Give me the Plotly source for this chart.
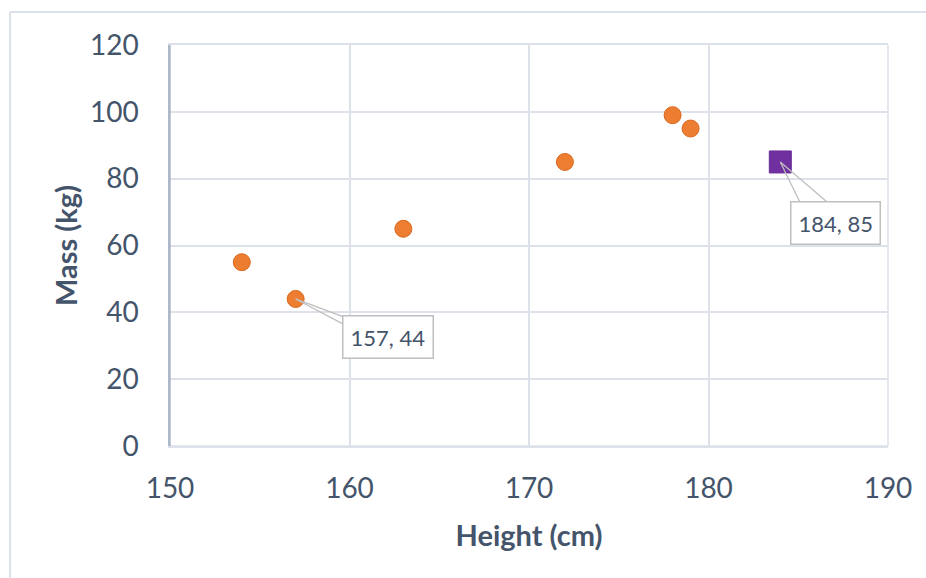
import plotly.graph_objects as go

# Body measurements
heights = [154, 157, 163, 172, 178, 179]
masses = [55, 44, 65, 85, 99, 95]
new_height = [184]
new_mass = [85]

x_ticks = [150, 160, 170, 180, 190]
y_ticks = [0, 20, 40, 60, 80, 100, 120]

TEXT = "#44546A"
GRID = "#DDE2EA"
FONT = "Lato, 'Open Sans', sans-serif"

fig = go.Figure()
fig.add_trace(go.Scatter(
    x=heights, y=masses, mode="markers",
    marker=dict(symbol="circle", size=17, color="#ED7D31",
                line=dict(color="#D9681E", width=1)),
    hoverinfo="x+y", showlegend=False,
))
fig.add_trace(go.Scatter(
    x=new_height, y=new_mass, mode="markers",
    marker=dict(symbol="square", size=22, color="#7030A0",
                line=dict(color="#6A2C99", width=1)),
    hoverinfo="x+y", showlegend=False,
))


def callout(x, y, dx, dy, base):
    """Boxed label offset by (dx, dy) px with a wedge pointing to (x, y)."""
    for bx, by in base:
        fig.add_annotation(x=x, y=y, xref="x", yref="y", text="",
                           showarrow=True, arrowhead=0, arrowwidth=1.3,
                           arrowcolor="#BFBFBF", ax=bx, ay=by, standoff=0)
    fig.add_annotation(x=x, y=y, xref="x", yref="y",
                       text=f"{x}, {y}", showarrow=True, ax=dx, ay=dy,
                       arrowcolor="rgba(0,0,0,0)", arrowwidth=0.1,
                       font=dict(family=FONT, size=22, color=TEXT),
                       bgcolor="white", bordercolor="#BFBFBF", borderwidth=1.5,
                       borderpad=7)


callout(heights[1], masses[1], 92, 38, [(48, 18), (51, 27)])
callout(new_height[0], new_mass[0], 55, 61, [(20, 41), (48, 41)])

# outer chart frame (top and left edges)
fig.add_shape(type="line", xref="paper", yref="paper",
              x0=-0.2228, x1=1.06, y0=1.0825, y1=1.0825,
              line=dict(color="#DDE2EA", width=2))
fig.add_shape(type="line", xref="paper", yref="paper",
              x0=-0.2228, x1=-0.2228, y0=1.0825, y1=-0.35,
              line=dict(color="#DDE2EA", width=2))

fig.update_layout(
    width=926, height=578,
    margin=dict(l=170, r=38, t=45, b=132),
    paper_bgcolor="white", plot_bgcolor="white",
    font=dict(family=FONT, color=TEXT),
    xaxis=dict(
        range=[150, 190], tickvals=x_ticks, showgrid=True, gridcolor=GRID,
        gridwidth=1.5, zeroline=False, showline=True, linecolor=GRID,
        linewidth=1.5, mirror=True, ticks="", ticklen=0,
        ticklabelstandoff=17,
        tickfont=dict(size=28, color=TEXT),
        title=dict(text="<b>Height (cm)</b>", font=dict(size=29, color=TEXT),
                   standoff=22),
    ),
    yaxis=dict(
        range=[0, 120], tickvals=y_ticks, showgrid=True, gridcolor=GRID,
        gridwidth=1.5, zeroline=False, showline=True, linecolor="#ADB9CA",
        linewidth=1.5, ticks="", ticklen=0,
        ticklabelstandoff=24,
        tickfont=dict(size=28, color=TEXT),
        title=dict(text="<b>Mass (kg)</b>", font=dict(size=29, color=TEXT),
                   standoff=4),
    ),
)
# plot-area edges
fig.add_shape(type="line", xref="paper", yref="paper", x0=1, x1=1, y0=0, y1=1,
              line=dict(color=GRID, width=1.5))
fig.add_shape(type="line", xref="paper", yref="paper", x0=0, x1=1, y0=0, y1=0,
              line=dict(color=GRID, width=1.5))
fig.add_shape(type="line", xref="paper", yref="paper", x0=0, x1=0, y0=0, y1=1,
              line=dict(color="#ADB9CA", width=1.5))

fig.write_html("out.html")
